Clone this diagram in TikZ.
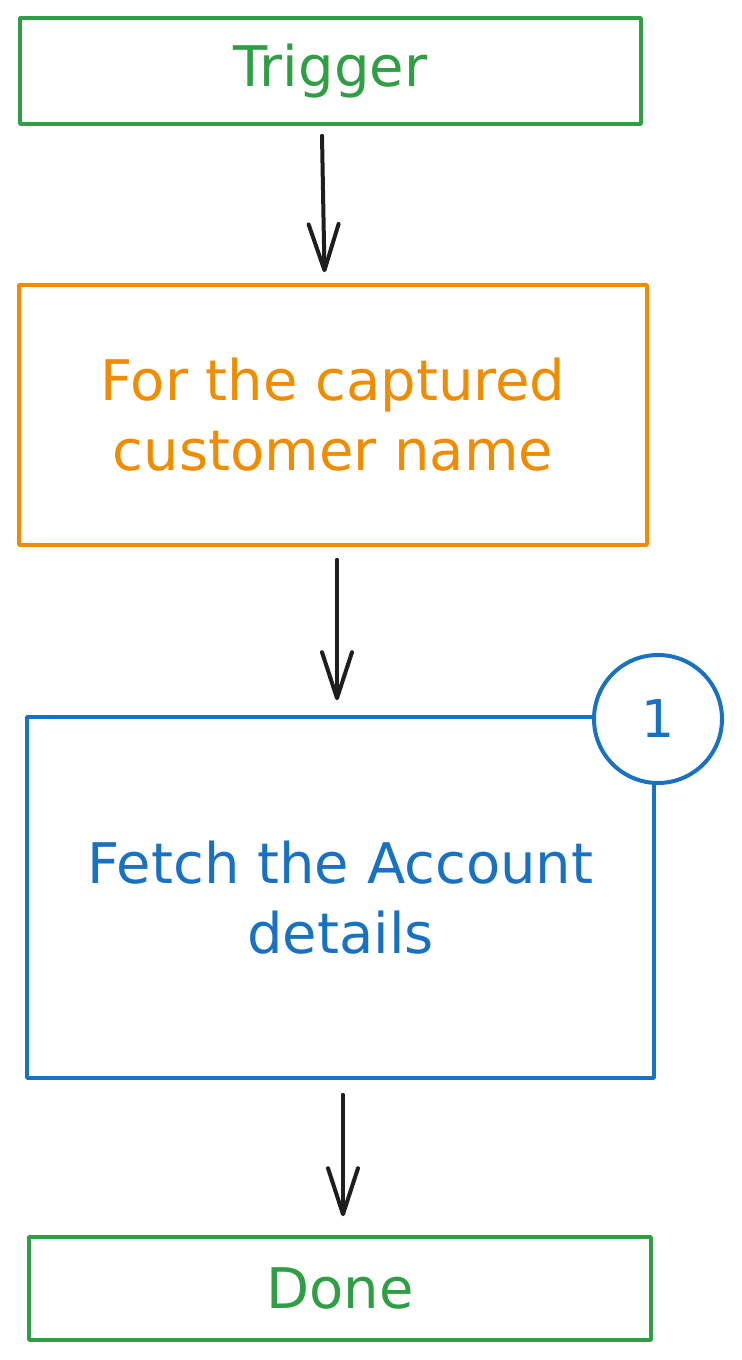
\documentclass[tikz,border=0pt]{standalone}
\usepackage{fontspec}
\setmainfont{DejaVu Sans}
\usetikzlibrary{arrows.meta}
\definecolor{flowgreen}{HTML}{2F9E44}
\definecolor{floworange}{HTML}{F08C00}
\definecolor{flowblue}{HTML}{1971C2}
\definecolor{flowink}{HTML}{1E1E1E}
\tikzset{
  stepbox/.style={draw, line width=1.8pt, rectangle, inner sep=0pt, align=center,
    font=\fontsize{28pt}{35pt}\selectfont, line join=round},
  badge/.style={draw=flowblue, text=flowblue, fill=white, circle, line width=2pt,
    minimum size=64pt, inner sep=0pt, font=\fontsize{26pt}{30pt}\selectfont},
  flowarrow/.style={draw=flowink, line width=2pt, line cap=round, line join=round,
    -{Straight Barb[length=23pt,width=15pt,line width=2pt,round]}},
}
\begin{document}
\begin{tikzpicture}[x=0.5pt, y=-0.5pt]
  \useasboundingbox (0,0) rectangle (741,1360);
  \fill[white] (0,0) rectangle (741,1360);

  % process boxes
  \node[stepbox, draw=flowgreen, text=flowgreen, minimum width=310.5pt, minimum height=53pt]
    (trigger) at (330.5,71) {Trigger};
  \node[stepbox, draw=floworange, text=floworange, minimum width=314pt, minimum height=130pt]
    (loop) at (333,415) {For the captured\\customer name};
  \node[stepbox, draw=flowblue, text=flowblue, minimum width=313.5pt, minimum height=180.5pt]
    (fetch) at (340.5,897.5) {Fetch the Account\\details};
  \node[stepbox, draw=flowgreen, text=flowgreen, minimum width=311pt, minimum height=51.5pt]
    (done) at (340,1288.5) {Done};

  % step number badge on the fetch box corner
  \node[badge] (num) at (658,719) {1};

  % connectors
  \draw[flowarrow] ([xshift=-4.25pt,yshift=-5pt]trigger.south) -- ([xshift=-4.25pt,yshift=5.5pt]loop.north);
  \draw[flowarrow] ([xshift=2pt,yshift=-6.5pt]loop.south) -- ([xshift=-1.75pt,yshift=7.5pt]fetch.north);
  \draw[flowarrow] ([xshift=1.25pt,yshift=-7.5pt]fetch.south) -- ([xshift=1.5pt,yshift=9.5pt]done.north);
\end{tikzpicture}
\end{document}
